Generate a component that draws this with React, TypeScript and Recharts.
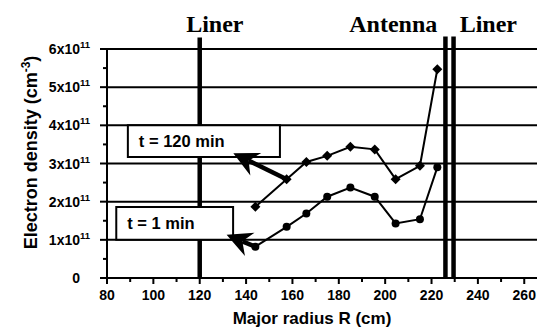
import { LineChart, Line, XAxis, YAxis, ReferenceLine, ReferenceArea, ReferenceDot, Label } from 'recharts'

// electron density in units of 1e11 cm^-3
const radius = [144, 157.5, 166, 175, 185, 195.5, 204.5, 215, 222.5]
const density120 = [1.87, 2.59, 3.04, 3.2, 3.44, 3.37, 2.59, 2.94, 5.47]
const density1 = [0.82, 1.34, 1.69, 2.13, 2.37, 2.13, 1.43, 1.54, 2.9]

const xTicks = [80, 90, 100, 110, 120, 130, 140, 150, 160, 170, 180, 190, 200, 210, 220, 230, 240, 250, 260]
const xLabelTicks = [80, 100, 120, 140, 160, 180, 200, 220, 240, 260]
const yTicks = [0, 0.5, 1, 1.5, 2, 2.5, 3, 3.5, 4, 4.5, 5, 5.5, 6]
const yLabelTicks = [0, 1, 2, 3, 4, 5, 6]
const gridValues = [1, 2, 3, 4, 5, 6]

// wall positions (cm) and their captions
const walls = [120, 226, 229.5]
const wallTops = [6.3, 6.33, 6.33]
const captions = ['Liner', 'Antenna', 'Liner']
const captionX = [126.5, 203.5, 244.5]
const captionY = 6.44

// legend boxes: [x1, x2, y1, y2] in data units, text, arrow start -> tip
const boxText = ['t = 120 min', 't = 1 min']
const boxes = [
  [89, 154.6, 3.17, 4.0],
  [84, 134.4, 1.0, 1.86],
]
const arrowFrom = [
  { x: 157.5, y: 2.59 },
  { x: 144, y: 0.82 },
]
const arrowTo = [
  { x: 134.5, y: 3.27 },
  { x: 131.6, y: 1.13 },
]

const upper = radius.map((r, i) => ({ r, n: density120[i] }))
const lower = radius.map((r, i) => ({ r, n: density1[i] }))

const SANS = '"Liberation Sans", Arial, sans-serif'
const SERIF = '"Liberation Serif", "Times New Roman", serif'

const XTick = (props: any) => {
  const { x, y, payload } = props
  const major = xLabelTicks.includes(payload.value)
  return (
    <g>
      <line x1={x} y1={y} x2={x} y2={y + (major ? 6 : 4)} stroke="#000" strokeWidth={2} />
      {major && (
        <text x={x} y={y + 22} textAnchor="middle" fontFamily={SANS} fontWeight="bold" fontSize={14} fill="#000">
          {payload.value}
        </text>
      )}
    </g>
  )
}

const YTick = (props: any) => {
  const { x, y, payload } = props
  const v = payload.value
  const major = yLabelTicks.includes(v)
  return (
    <g>
      <line x1={x - (major ? 7 : 4)} y1={y} x2={x} y2={y} stroke="#000" strokeWidth={2} />
      {major && (
        <text x={x - 27} y={y + 5} textAnchor="end" fontFamily={SANS} fontWeight="bold" fontSize={14} fill="#000">
          {v === 0 ? '0' : `${v}x10`}
        </text>
      )}
      {major && v !== 0 && (
        <text x={x - 27} y={y - 1} textAnchor="start" fontFamily={SANS} fontWeight="bold" fontSize={9.5} fill="#000">
          11
        </text>
      )}
    </g>
  )
}

const Diamond = (props: any) => {
  const { cx, cy } = props
  if (cx == null || cy == null) return null
  const s = 5
  return <polygon points={`${cx},${cy - s} ${cx + s},${cy} ${cx},${cy + s} ${cx - s},${cy}`} fill="#000" />
}

const Circle = (props: any) => {
  const { cx, cy } = props
  if (cx == null || cy == null) return null
  return <circle cx={cx} cy={cy} r={4} fill="#000" />
}

const Arrow = (props: any) => {
  const { x1, y1, x2, y2 } = props
  const dx = x2 - x1
  const dy = y2 - y1
  const len = Math.hypot(dx, dy) || 1
  const ux = dx / len
  const uy = dy / len
  const px = -uy
  const py = ux
  const L = 25
  const W = 12.5
  const N = 17
  const bx = x2 - ux * L
  const by = y2 - uy * L
  const pts = [
    [x2, y2],
    [bx + px * W, by + py * W],
    [x2 - ux * N, y2 - uy * N],
    [bx - px * W, by - py * W],
  ]
  return (
    <g>
      <line x1={x1} y1={y1} x2={x2 - ux * N} y2={y2 - uy * N} stroke="#000" strokeWidth={4.5} />
      <polygon points={pts.map((p) => p.join(',')).join(' ')} fill="#000" />
    </g>
  )
}

const caption = (text: string) => (props: any) => {
  const { viewBox } = props
  return (
    <text x={viewBox.x + viewBox.width / 2} y={viewBox.y + viewBox.height / 2} textAnchor="middle" fontFamily={SERIF} fontWeight="bold" fontSize={24} fill="#000">
      {text}
    </text>
  )
}

const boxLabel = (text: string) => (props: any) => {
  const { viewBox } = props
  return (
    <text x={viewBox.x + 11} y={viewBox.y + viewBox.height / 2 + 6} fontFamily={SANS} fontWeight="bold" fontSize={16.5} fill="#000">
      {text}
    </text>
  )
}

const YLabel = (props: any) => {
  const { viewBox } = props
  const cx = viewBox.x + 37
  const cy = viewBox.y + viewBox.height / 2 - 11
  return (
    <text x={cx} y={cy} transform={`rotate(-90, ${cx}, ${cy})`} textAnchor="middle" fontFamily={SANS} fontWeight="bold" fontSize={18} fill="#000">
      <tspan>Electron density (cm</tspan>
      <tspan dy={-7} fontSize={12}>-3</tspan>
      <tspan dy={7}>)</tspan>
    </text>
  )
}

const XLabel = (props: any) => {
  const { viewBox } = props
  return (
    <text x={viewBox.x + viewBox.width / 2 - 10} y={viewBox.y + 46} textAnchor="middle" fontFamily={SANS} fontWeight="bold" fontSize={17} fill="#000">
      Major radius R (cm)
    </text>
  )
}

export default function App() {
  return (
    <div style={{ width: 537, height: 330, background: '#fff' }}>
      <style>{'body{margin:0}'}</style>
      <LineChart width={537} height={330} margin={{ top: 49, right: 0, left: 0, bottom: 0 }}>
        <XAxis
          dataKey="r"
          type="number"
          domain={[80, 265.5]}
          ticks={xTicks}
          interval={0}
          height={52}
          tickSize={0}
          tickMargin={0}
          tickLine={false}
          tick={<XTick />}
          axisLine={{ stroke: '#000', strokeWidth: 2 }}
          allowDataOverflow
        >
          <Label content={<XLabel />} />
        </XAxis>
        <YAxis
          type="number"
          domain={[0, 6]}
          ticks={yTicks}
          interval={0}
          width={107}
          tickSize={0}
          tickMargin={0}
          tickLine={false}
          tick={<YTick />}
          axisLine={{ stroke: '#000', strokeWidth: 2 }}
          allowDataOverflow
        >
          <Label content={<YLabel />} />
        </YAxis>
        {gridValues.map((v) => (
          <ReferenceLine key={`g${v}`} y={v} stroke="#000" strokeWidth={2} zIndex={0} />
        ))}
        {walls.map((w, i) => (
          <ReferenceLine
            key={`w${i}`}
            segment={[{ x: w, y: 0 }, { x: w, y: wallTops[i] }]}
            stroke="#000"
            strokeWidth={4.5}
            ifOverflow="visible"
            zIndex={1}
          />
        ))}
        {captions.map((c, i) => (
          <ReferenceDot key={`c${i}`} x={captionX[i]} y={captionY} r={0} fill="none" stroke="none" ifOverflow="visible" label={caption(c)} zIndex={1} />
        ))}
        {boxes.map((b, i) => (
          <ReferenceArea
            key={`b${i}`}
            x1={b[0]}
            x2={b[1]}
            y1={b[2]}
            y2={b[3]}
            fill="#fff"
            fillOpacity={1}
            stroke="#000"
            strokeWidth={2}
            ifOverflow="visible"
            label={boxLabel(boxText[i])}
            zIndex={2}
          />
        ))}
        <Line data={upper} dataKey="n" stroke="#000" strokeWidth={2} dot={<Diamond />} activeDot={false} isAnimationActive={false} zIndex={3} />
        <Line data={lower} dataKey="n" stroke="#000" strokeWidth={2} dot={<Circle />} activeDot={false} isAnimationActive={false} zIndex={3} />
        {arrowFrom.map((a, i) => (
          <ReferenceLine key={`a${i}`} segment={[a, arrowTo[i]]} shape={Arrow} ifOverflow="visible" zIndex={4} />
        ))}
      </LineChart>
    </div>
  )
}
